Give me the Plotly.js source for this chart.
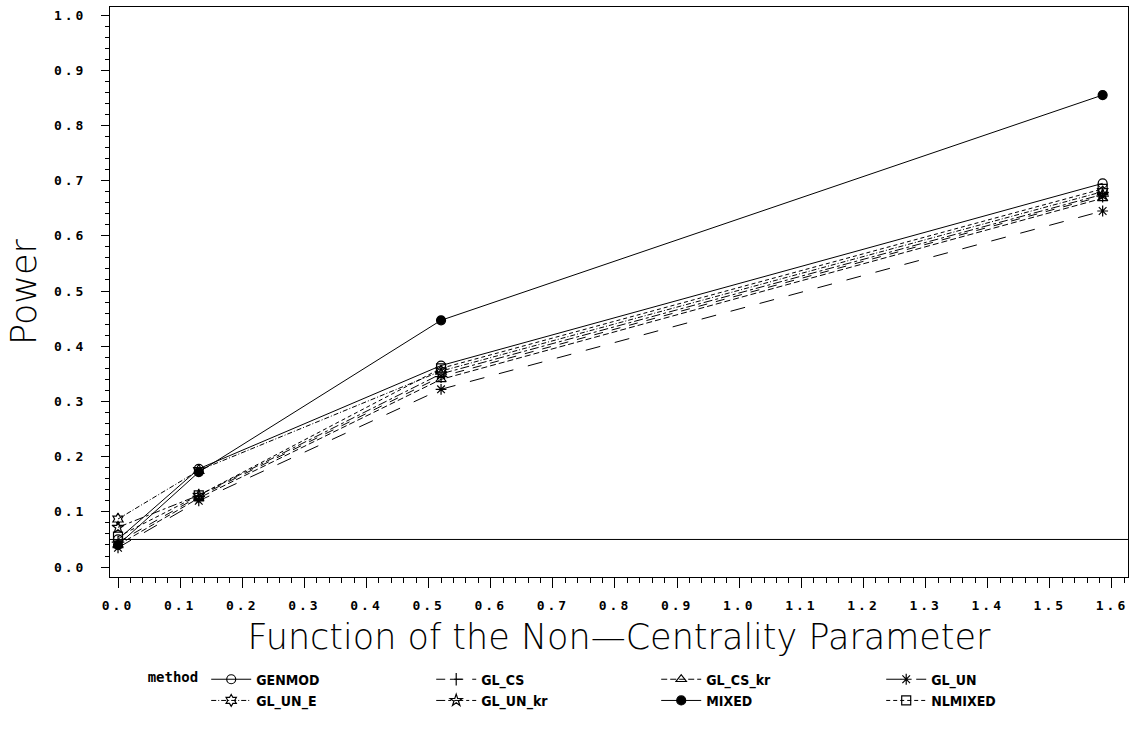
<!DOCTYPE html>
<html>
<head>
<meta charset="utf-8">
<script src="https://cdn.plot.ly/plotly-3.0.1.min.js"></script>
<style>
html,body{margin:0;padding:0;background:#fff;}
#chart{width:1132px;height:738px;}
.xtick text, .ytick text{letter-spacing:3px;}
</style>
</head>
<body>
<div id="chart"></div>
<script>
// ---- data ----
const ncp = [0.0, 0.13, 0.52, 1.585];
const methods = ["GENMOD", "GL_CS", "GL_CS_kr", "GL_UN", "GL_UN_E", "GL_UN_kr", "MIXED", "NLMIXED"];
const GENMOD   = [0.050, 0.178, 0.365, 0.695];
const GL_CS    = [0.045, 0.128, 0.345, 0.672];
const GL_CS_kr = [0.040, 0.125, 0.340, 0.668];
const GL_UN    = [0.035, 0.120, 0.322, 0.645];
const GL_UN_E  = [0.087, 0.175, 0.355, 0.680];
const GL_UN_kr = [0.072, 0.130, 0.350, 0.675];
const MIXED    = [0.040, 0.172, 0.447, 0.855];
const NLMIXED  = [0.055, 0.130, 0.360, 0.685];
const powerValues = [GENMOD, GL_CS, GL_CS_kr, GL_UN, GL_UN_E, GL_UN_kr, MIXED, NLMIXED];
const xTicks = [0.0,0.1,0.2,0.3,0.4,0.5,0.6,0.7,0.8,0.9,1.0,1.1,1.2,1.3,1.4,1.5,1.6];
const yTicks = [0.0,0.1,0.2,0.3,0.4,0.5,0.6,0.7,0.8,0.9,1.0];
const refLine = 0.05;

// ---- styles ----
const symbols = ["circle-open","cross-thin-open","triangle-up-open","asterisk-open","hexagram-open","star-open","circle","square-open"];
const dashes  = ["solid","dash","6px,3px","longdash","5px,2px,1px,2px","dashdot","solid","4px,3px"];

const traces = methods.map((m, i) => ({
  type: "scatter",
  mode: "lines+markers",
  name: m,
  x: ncp,
  y: powerValues[i],
  line: {color: "#000", width: 1, dash: dashes[i]},
  marker: {symbol: symbols[i], size: 9, color: "#000", line: {color: "#000", width: 1.2}}
}));

const tickFont = {family: "DejaVu Sans Mono", size: 13, color: "#000", weight: "bold"};
const titleFont = {family: "DejaVu Sans", size: 35, color: "#000", weight: 200};
const legendFont = {family: "DejaVu Sans Condensed, DejaVu Sans", size: 14, color: "#000", weight: "bold"};

const layout = {
  width: 1132, height: 738,
  paper_bgcolor: "#fff", plot_bgcolor: "#fff",
  margin: {l: 110, r: 4, t: 7, b: 161, pad: 0},
  showlegend: true,
  xaxis: {
    range: [-0.0129, 1.6258], tickvals: xTicks, ticktext: xTicks.map(v => v.toFixed(1)),
    ticks: "outside", ticklen: 10, tickwidth: 1, tickcolor: "#000", ticklabelstandoff: 6,
    minor: {dtick: 0.02, tick0: 0, ticks: "outside", ticklen: 5, tickcolor: "#000", showgrid: false},
    showline: true, linecolor: "#000", linewidth: 1, mirror: true,
    showgrid: false, zeroline: false, tickfont: tickFont,
    title: {text: "Function of the Non\u2014Centrality Parameter", font: titleFont, standoff: 12}
  },
  yaxis: {
    range: [-0.018, 1.0145], tickvals: yTicks, ticktext: yTicks.map(v => v.toFixed(1)),
    ticks: "outside", ticklen: 8, tickwidth: 1, tickcolor: "#000", ticklabelstandoff: 12,
    minor: {dtick: 0.02, tick0: 0, ticks: "outside", ticklen: 4, tickcolor: "#000", showgrid: false},
    showline: true, linecolor: "#000", linewidth: 1, mirror: true,
    showgrid: false, zeroline: false, tickfont: tickFont,
    title: {text: "Power", font: titleFont, standoff: 6}
  },
  shapes: [{type: "line", xref: "paper", x0: 0, x1: 1, yref: "y", y0: refLine, y1: refLine,
            line: {color: "#000", width: 1}}],
  legend: {
    orientation: "h", x: 0.035, xanchor: "left", y: -0.152, yanchor: "top",
    entrywidth: 170, entrywidthmode: "pixels", traceorder: "normal",
    font: legendFont,
    title: {text: "method", side: "left", font: {family: "DejaVu Sans Mono", size: 14, color: "#000", weight: "bold"}},
    itemwidth: 40, tracegroupgap: 0, bgcolor: "rgba(0,0,0,0)"
  }
};

Plotly.newPlot("chart", traces, layout, {displayModeBar: false, staticPlot: true});
</script>
</body>
</html>
